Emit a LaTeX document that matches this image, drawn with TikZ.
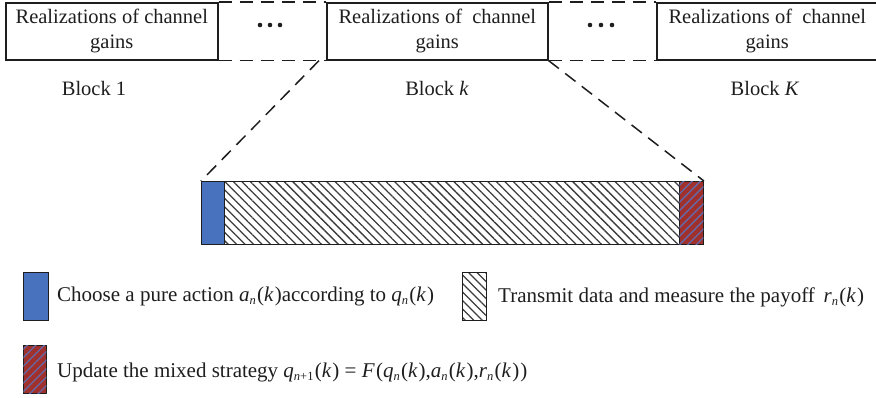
\documentclass[tikz,border=0pt]{standalone}
\usepackage{fontspec}
\setmainfont{Liberation Serif}
\usetikzlibrary{patterns.meta}
\definecolor{myblue}{RGB}{72,114,190}
\definecolor{myred}{RGB}{160,48,44}
\definecolor{stripeblue}{RGB}{100,105,170}
\definecolor{hatchgray}{RGB}{60,60,60}
\definecolor{ink}{RGB}{30,30,30}
\newcommand\mi[1]{\textit{#1}}
\newcommand\msub[1]{\raisebox{-0.35ex}{\fontsize{12.5}{12.5}\selectfont #1}}
\newcommand\pl{\kern0.06em(}
\newcommand\pr{\kern0.05em)}
\tikzset{
  topbox/.style={draw=ink, line width=1.6pt, anchor=north west, align=center,
    minimum height=57pt, inner sep=0pt, text=ink, font=\fontsize{20.5}{25}\selectfont},
  dashline/.style={draw=ink, line width=1.5pt, dash pattern=on 13pt off 8pt},
  blocklabel/.style={text=ink, font=\fontsize{20.5}{24}\selectfont},
  barpart/.style={draw=ink, line width=0.9pt, anchor=north west, minimum height=63pt, inner sep=0pt},
  bluepart/.style={barpart, fill=myblue},
  hatchpart/.style={barpart, pattern={Lines[angle=-45,distance=6pt,line width=1.3pt]}, pattern color=hatchgray},
  redpart/.style={barpart, fill=myred, postaction={pattern={Lines[angle=45,distance=6pt,line width=1.3pt]}, pattern color=stripeblue}},
  legtext/.style={anchor=west, text=ink, inner sep=0pt, font=\fontsize{21}{24}\selectfont},
  dot/.style={fill=ink},
}
\begin{document}
\begin{tikzpicture}[x=1pt,y=-1pt]
\useasboundingbox (0,0) rectangle (876,398);
% top boxes
\node[topbox, minimum width=212pt] (box1) at (5,2) {Realizations of channel\\gains};
\node[topbox, minimum width=221pt] (boxk) at (326,2) {Realizations of\hspace{0.25em} channel\\gains};
\node[topbox, minimum width=221pt] (boxK) at (656,2) {Realizations of\hspace{0.25em} channel\\gains};
% dashed connections between boxes
\draw[dashline] (box1.north east) -- (boxk.north west);
\draw[dashline] (box1.south east) -- (boxk.south west);
\draw[dashline] (boxk.north east) -- (boxK.north west);
\draw[dashline] (boxk.south east) -- (boxK.south west);
% dots
\foreach \x in {260,270,280} \fill[dot] (\x,25) circle (2.3pt);
\foreach \x in {590,601,612} \fill[dot] (\x,25) circle (2.3pt);
% block labels
\node[blocklabel] (lb1) at (94,88) {Block 1};
\node[blocklabel] (lbk) at (437,88) {Block \mi{k}};
\node[blocklabel] (lbK) at (765,88) {Block \mi{K}};
% bar
\node[hatchpart, minimum width=455pt] (hatch) at (224,181) {};
\node[bluepart, minimum width=23pt] (blue) at (201,181) {};
\node[redpart, minimum width=24pt] (red) at (679,181) {};
% zoom lines
\draw[dashline] ([xshift=-7pt]boxk.south west) -- (blue.north west);
\draw[dashline] (boxk.south east) -- (red.north east);
% legend
\node[bluepart, minimum width=25pt, minimum height=48pt] (lgblue) at (23,272) {};
\node[hatchpart, minimum width=24pt, minimum height=48pt] (lghatch) at (462,272) {};
\node[redpart, minimum width=23pt, minimum height=48pt] (lgred) at (23,345) {};
\node[legtext] (t1) at (57,296) {Choose a pure action \mi{a}\msub{\mi{n}}\pl\mi{k}\pr{}according to \mi{q}\msub{\mi{n}}\pl\mi{k}\pr};
\node[legtext] (t2) at (498,297) {Transmit data and measure the payoff\, \mi{r}\msub{\mi{n}}\pl\mi{k}\pr};
\node[legtext] (t3) at (57,372) {Update the mixed strategy \mi{q}\msub{\mi{n}+1}\pl\mi{k}\pr{} = \mi{F}\pl\mi{q}\msub{\mi{n}}\pl\mi{k}\pr,\mi{a}\msub{\mi{n}}\pl\mi{k}\pr,\mi{r}\msub{\mi{n}}\pl\mi{k}\pr\pr};
\end{tikzpicture}
\end{document}
